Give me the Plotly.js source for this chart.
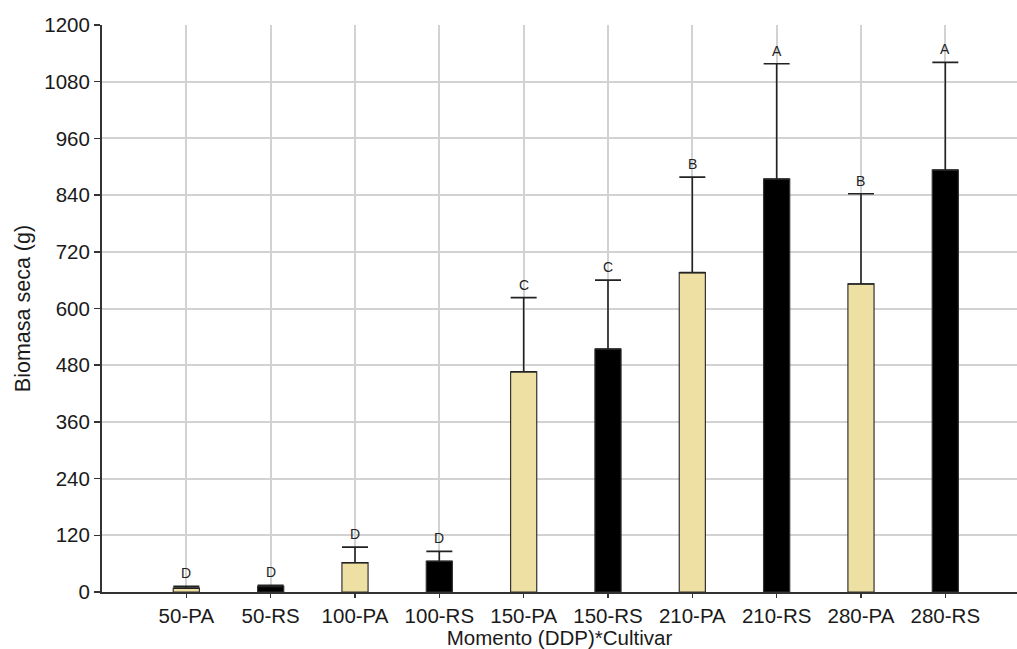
<!DOCTYPE html>
<html><head><meta charset="utf-8">
<script src="https://cdn.plot.ly/plotly-3.0.1.min.js"></script>
<style>html,body{margin:0;padding:0;background:#fff;}#chart{width:1017px;height:649px;}</style>
</head><body><div id="chart"></div>
<script>
const categories = ['50-PA','50-RS','100-PA','100-RS','150-PA','150-RS','210-PA','210-RS','280-PA','280-RS'];
const biomass = [8, 12, 62, 65, 466, 514, 676, 874, 652, 893];
const errorUp = [4, 2, 33, 21, 157, 146, 202, 244, 191, 228];
const letters = ['D','D','D','D','C','C','B','A','B','A'];
const cultivarColors = {PA: '#EEDFA2', RS: '#000000'};

const colors = categories.map(c => cultivarColors[c.split('-')[1]]);

const trace = {
  type: 'bar',
  x: categories,
  y: biomass,
  width: 0.31,
  marker: {color: colors, line: {color: '#333333', width: 1.2}},
  error_y: {type: 'data', array: errorUp, arrayminus: errorUp.map(() => 0), symmetric: false,
            color: '#222222', thickness: 1.6, width: 13},
  hoverinfo: 'x+y'
};

const annotations = categories.map((c, i) => ({
  x: c, y: biomass[i] + errorUp[i], text: letters[i], showarrow: false,
  yanchor: 'middle', yshift: 13, font: {family: 'Liberation Sans, Arial, sans-serif', size: 14, color: '#222'}
}));

const layout = {
  width: 1017, height: 649,
  margin: {l: 102, r: 0, t: 24.5, b: 56.5},
  paper_bgcolor: '#fff', plot_bgcolor: '#fff',
  showlegend: false,
  font: {family: 'Liberation Sans, Arial, sans-serif', size: 20, color: '#1a1a1a'},
  xaxis: {
    type: 'category', range: [-1, 9.85],
    showgrid: true, gridcolor: '#d2d2d2', gridwidth: 2,
    showline: true, linecolor: '#333', linewidth: 2,
    ticks: 'outside', ticklen: 4, tickcolor: '#333', tickwidth: 1.5,
    tickfont: {size: 20.5},
    title: {text: 'Momento (DDP)*Cultivar', font: {size: 20.5}, standoff: 5}
  },
  yaxis: {
    range: [0, 1200], tickvals: [0,120,240,360,480,600,720,840,960,1080,1200],
    showgrid: true, gridcolor: '#d2d2d2', gridwidth: 2,
    showline: true, linecolor: '#333', linewidth: 2,
    ticks: 'outside', ticklen: 6, tickcolor: '#333', tickwidth: 1.5,
    tickfont: {size: 20.5}, zeroline: false,
    title: {text: 'Biomasa seca (g)', font: {size: 21.5}, standoff: 8}
  },
  annotations: annotations
};

Plotly.newPlot('chart', [trace], layout, {displayModeBar: false, staticPlot: true});
</script></body></html>
